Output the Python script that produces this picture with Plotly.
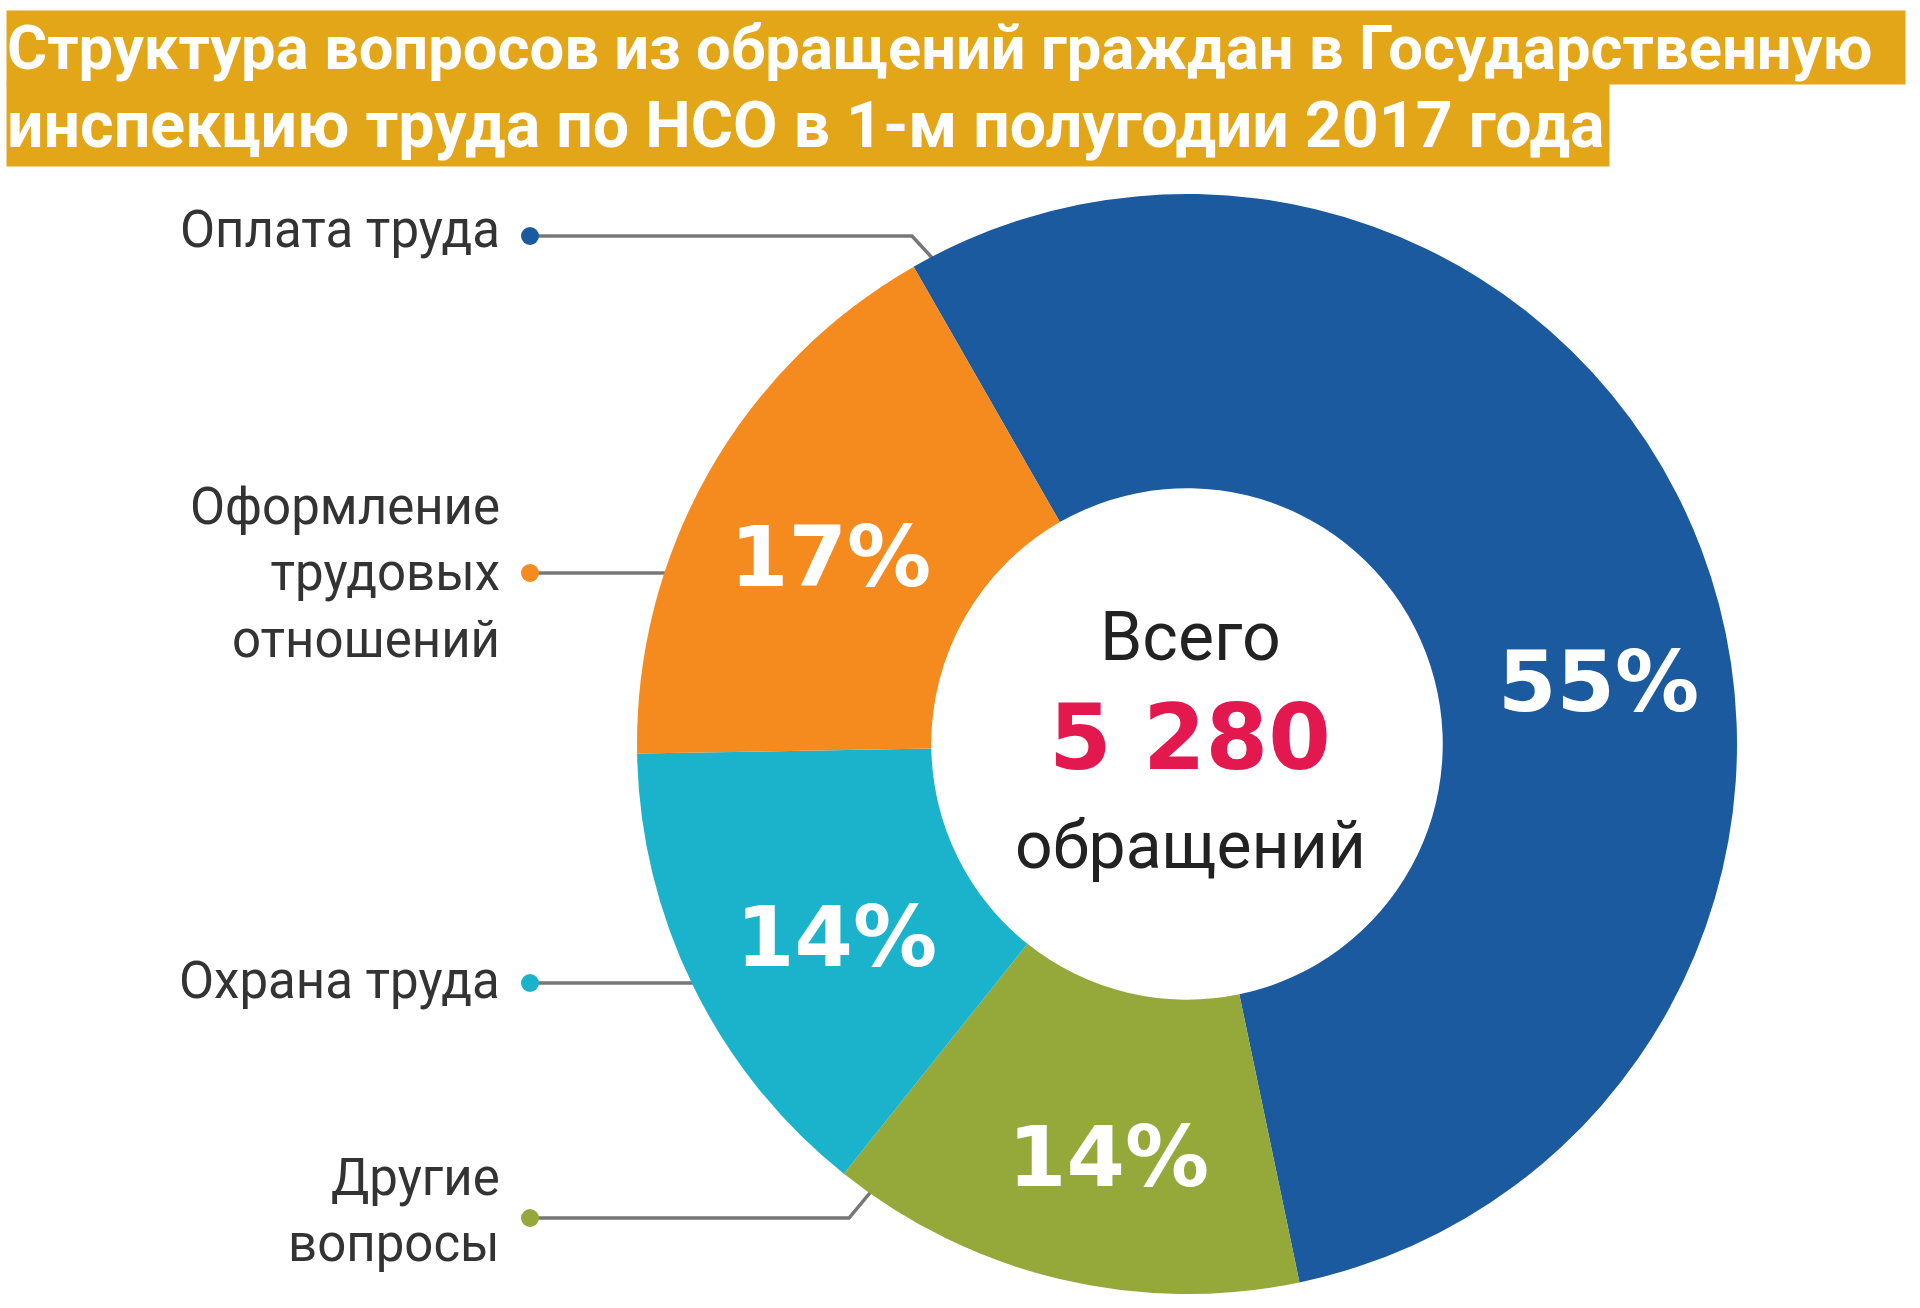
import plotly.graph_objects as go

# ---------------- data ----------------
categories = ["Оплата труда", "Другие вопросы", "Охрана труда", "Оформление трудовых отношений"]
shares = [55, 14, 14, 17]
side_labels = ["Оплата труда", "Другие<br>вопросы", "Охрана труда", "Оформление<br>трудовых<br>отношений"]
total_requests = "5 280"
center_top = "Всего"
center_bottom = "обращений"
title_line1 = "Структура вопросов из обращений граждан в Государственную"
title_line2 = "инспекцию труда по НСО в 1-м полугодии 2017 года"

# ---------------- style ----------------
W, H = 1920, 1308
colors = ["#1B5A9F", "#95A83A", "#1BB3CB", "#F58A1F"]
gold = "#E2A618"
label_font = "Roboto, sans-serif"
num_font = "DejaVu Sans, sans-serif"


def px(x):
    return x / W


def py(y):
    return 1 - y / H


# pie geometry (pixels)
cx, cy, R = 1187, 744, 550

fig = go.Figure()
fig.add_trace(go.Pie(
    labels=categories,
    values=shares,
    sort=False,
    direction="clockwise",
    rotation=-29.8,
    hole=0.465,
    marker=dict(colors=colors, line=dict(width=0)),
    textinfo="none",
    hovertemplate="%{label}: %{value}%<extra></extra>",
    domain=dict(x=[px(cx - R), px(cx + R)], y=[py(cy + R), py(cy - R)]),
    showlegend=False,
))

annotations = []
# title, two highlighted lines
annotations.append(dict(text=f"<b>{title_line1}</b>", x=px(6), y=py(10), xref="paper", yref="paper",
                        xanchor="left", yanchor="top", showarrow=False, align="left",
                        width=1898, height=73, bgcolor=gold, borderpad=0,
                        font=dict(family="Roboto, sans-serif", size=61.5, color="white")))
annotations.append(dict(text=f"<b>{title_line2}</b>", x=px(6), y=py(83), xref="paper", yref="paper",
                        xanchor="left", yanchor="top", showarrow=False, align="left",
                        width=1602, height=82, bgcolor=gold, borderpad=0,
                        font=dict(family="Roboto, sans-serif", size=64.5, color="white")))

# percentage labels in the slices
pct_pos = [(1598, 682), (1108, 1157), (836, 937), (830, 557)]
for v, (x, y) in zip(shares, pct_pos):
    annotations.append(dict(text=f"<b>{v}%</b>", x=px(x), y=py(y), xref="paper", yref="paper",
                            xanchor="center", yanchor="middle",
                            showarrow=False, font=dict(family=num_font, size=84, color="white")))

# center text
annotations.append(dict(text=center_top, x=px(1190), y=py(637), xref="paper", yref="paper", showarrow=False,
                        xanchor="center", yanchor="middle",
                        font=dict(family=label_font, size=68, color="#222222")))
annotations.append(dict(text=f"<b>{total_requests}</b>", x=px(1190), y=py(738), xref="paper", yref="paper",
                        xanchor="center", yanchor="middle",
                        showarrow=False, font=dict(family=num_font, size=90, color="#E3184F")))
annotations.append(dict(text=center_bottom, x=px(1190), y=py(845), xref="paper", yref="paper", showarrow=False,
                        xanchor="center", yanchor="middle",
                        font=dict(family=label_font, size=66, color="#222222")))

# side labels (right-aligned), dots and leader lines
label_pos = [229, 1210, 980, 573]
dot_y = [236, 1218, 983, 573]
leader_paths = [
    [(530, 236), (912, 236), (936, 262)],
    [(530, 1218), (849, 1218), (874, 1188)],
    [(530, 983), (694, 983)],
    [(530, 573), (666, 573)],
]
shapes = []
for lab, ly, dy, col, path in zip(side_labels, label_pos, dot_y, colors, leader_paths):
    annotations.append(dict(text=lab, x=px(502), y=py(ly), xref="paper", yref="paper", xanchor="right",
                            yanchor="middle", align="right", showarrow=False,
                            font=dict(family=label_font, size=51, color="#333333")))
    d = "M " + " L ".join(f"{px(x)},{py(y)}" for x, y in path)
    shapes.append(dict(type="path", path=d, xref="paper", yref="paper",
                       line=dict(color="#777777", width=3.5), layer="below"))
    r = 9
    shapes.append(dict(type="circle", xref="paper", yref="paper",
                       x0=px(530 - r), x1=px(530 + r), y0=py(dy + r), y1=py(dy - r),
                       fillcolor=col, line=dict(width=0)))

fig.update_layout(
    width=W, height=H,
    margin=dict(l=0, r=0, t=0, b=0),
    paper_bgcolor="white", plot_bgcolor="white",
    annotations=annotations, shapes=shapes,
)

fig.write_html("out.html")
